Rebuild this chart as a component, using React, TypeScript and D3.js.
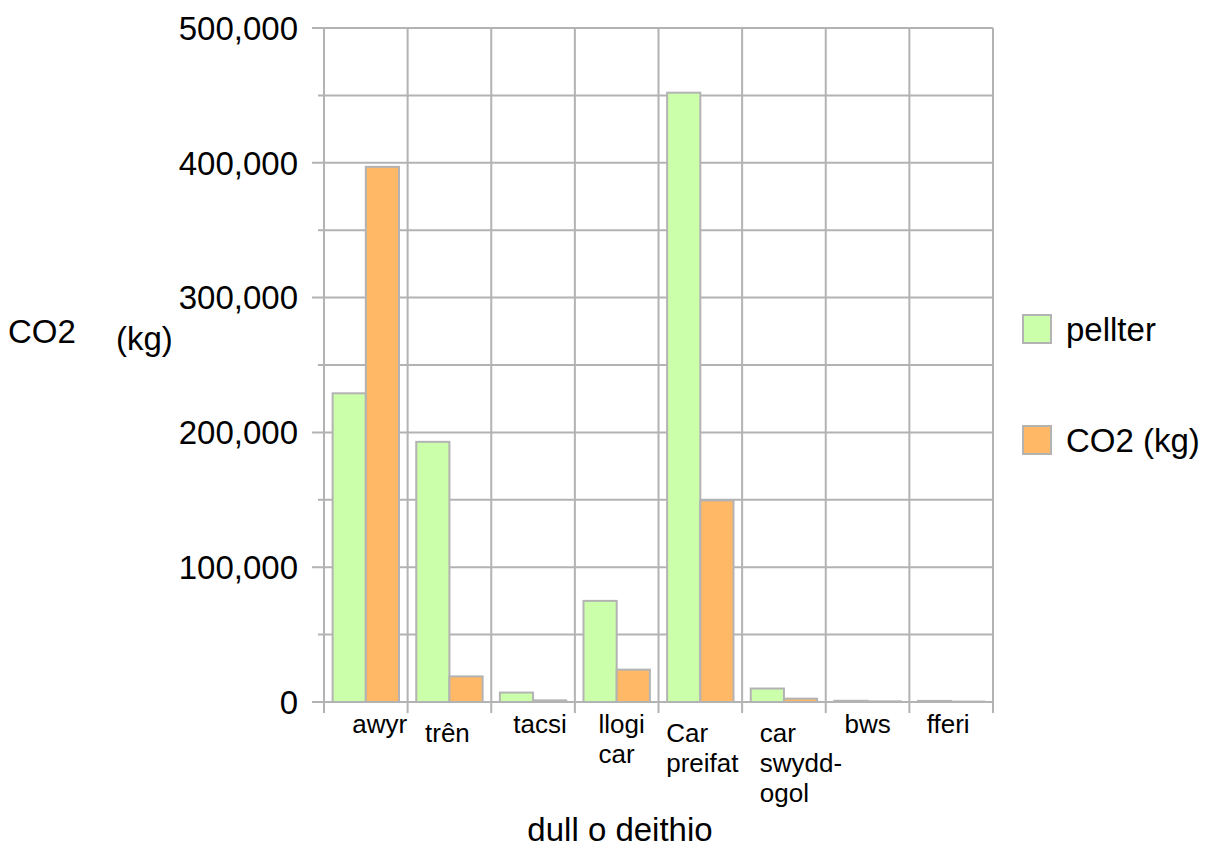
import React from "react";
import * as d3 from "d3";

const categories = ["awyr", "trên", "tacsi", "llogi car", "Car preifat", "car swydd-ogol", "bws", "fferi"];
const categoryLines = [["awyr"], ["trên"], ["tacsi"], ["llogi", "car"], ["Car", "preifat"], ["car", "swydd-", "ogol"], ["bws"], ["fferi"]];
const pellter = [229000, 193000, 7000, 75000, 452000, 10000, 900, 800];
const co2 = [397000, 19000, 1200, 24000, 149500, 2500, 500, 300];
const seriesNames = ["pellter", "CO2 (kg)"];
const seriesKeys = ["pellter", "co2"];
const yTicks = [0, 100000, 200000, 300000, 400000, 500000];
const yGrid = [0, 50000, 100000, 150000, 200000, 250000, 300000, 350000, 400000, 450000, 500000];

const COLORS = ["#ccffaa", "#ffb866"];
const GRID = "#b3b3b3";
const FONT = "'Liberation Sans', Arial, sans-serif";
// layout quirks of the original label placement
const LOWERED = new Set(["trên", "Car preifat", "car swydd-ogol"]);
const LABEL_SHIFT: Record<string, number> = { "awyr": 14, "trên": -2, "tacsi": 7, "llogi car": 5, "Car preifat": 2, "car swydd-ogol": 17, "bws": 0, "fferi": -3 };

function measure(text: string, size: number): number {
  const c = document.createElement("canvas").getContext("2d");
  if (!c) return text.length * size * 0.5;
  c.font = `${size}px 'Liberation Sans', Arial, sans-serif`;
  return c.measureText(text).width;
}

export default function App() {
  const W = 1210, H = 848;
  const left = 324, right = 993, top = 28, bottom = 702;
  const x = d3.scaleBand<string>().domain(categories).range([left, right]).padding(0);
  const inner = d3.scaleBand<string>().domain(seriesKeys).range([0, x.bandwidth()]).paddingInner(0).paddingOuter(0.26);
  const y = d3.scaleLinear().domain([0, 500000]).range([bottom, top]);
  const fmt = d3.format(",");
  const data = categories.map((c, i) => ({ c, vals: [pellter[i], co2[i]] }));
  const boundaries = categories.map((c) => x(c) as number).concat([right]);
  const catFont = 26;

  return (
    <svg width={W} height={H} style={{ position: "absolute", left: 0, top: 0, background: "#fff" }} fontFamily={FONT}>
      {yGrid.map((v) => (
        <line key={"h" + v} x1={yTicks.includes(v) ? left - 12 : left - 6} x2={right} y1={y(v)} y2={y(v)} stroke={GRID} strokeWidth={2} />
      ))}
      {boundaries.map((bx, i) => (
        <line key={"v" + i} x1={bx} x2={bx} y1={top} y2={bottom + 11} stroke={GRID} strokeWidth={2} />
      ))}
      {data.map((d) =>
        d.vals.map((v, j) => {
          const bx = (x(d.c) as number) + (inner(seriesKeys[j]) as number);
          return (
            <rect key={d.c + j} x={bx} y={y(v)} width={inner.bandwidth()} height={Math.max(0, y(0) - y(v))} fill={COLORS[j]} stroke={GRID} strokeWidth={2} />
          );
        })
      )}
      {yTicks.map((v) => (
        <text key={"t" + v} x={298} y={y(v)} dy="0.36em" textAnchor="end" fontSize={33} fill="#000">
          {fmt(v)}
        </text>
      ))}
      {categories.map((c, i) => {
        const lines = categoryLines[i];
        const wmax = Math.max(...lines.map((l) => measure(l, catFont)));
        const cx = (x(c) as number) + x.bandwidth() / 2 + (LABEL_SHIFT[c] || 0);
        const base = LOWERED.has(c) ? 742 : 733;
        return (
          <text key={"c" + c} fontSize={catFont} fill="#000">
            {lines.map((l, k) => (
              <tspan key={k} x={cx - wmax / 2} y={base + k * 30}>
                {l}
              </tspan>
            ))}
          </text>
        );
      })}
      <text x={8} y={343} fontSize={33} fill="#000">CO2</text>
      <text x={116} y={350} fontSize={33} fill="#000">(kg)</text>
      <text x={620} y={841} textAnchor="middle" fontSize={33} fill="#000">dull o deithio</text>
      {seriesNames.map((n, i) => (
        <g key={"l" + n}>
          <rect x={1023} y={315 + i * 111} width={28} height={28} fill={COLORS[i]} stroke={GRID} strokeWidth={2} />
          <text x={1066} y={341 + i * 111} fontSize={33} fill="#000">{n}</text>
        </g>
      ))}
    </svg>
  );
}
